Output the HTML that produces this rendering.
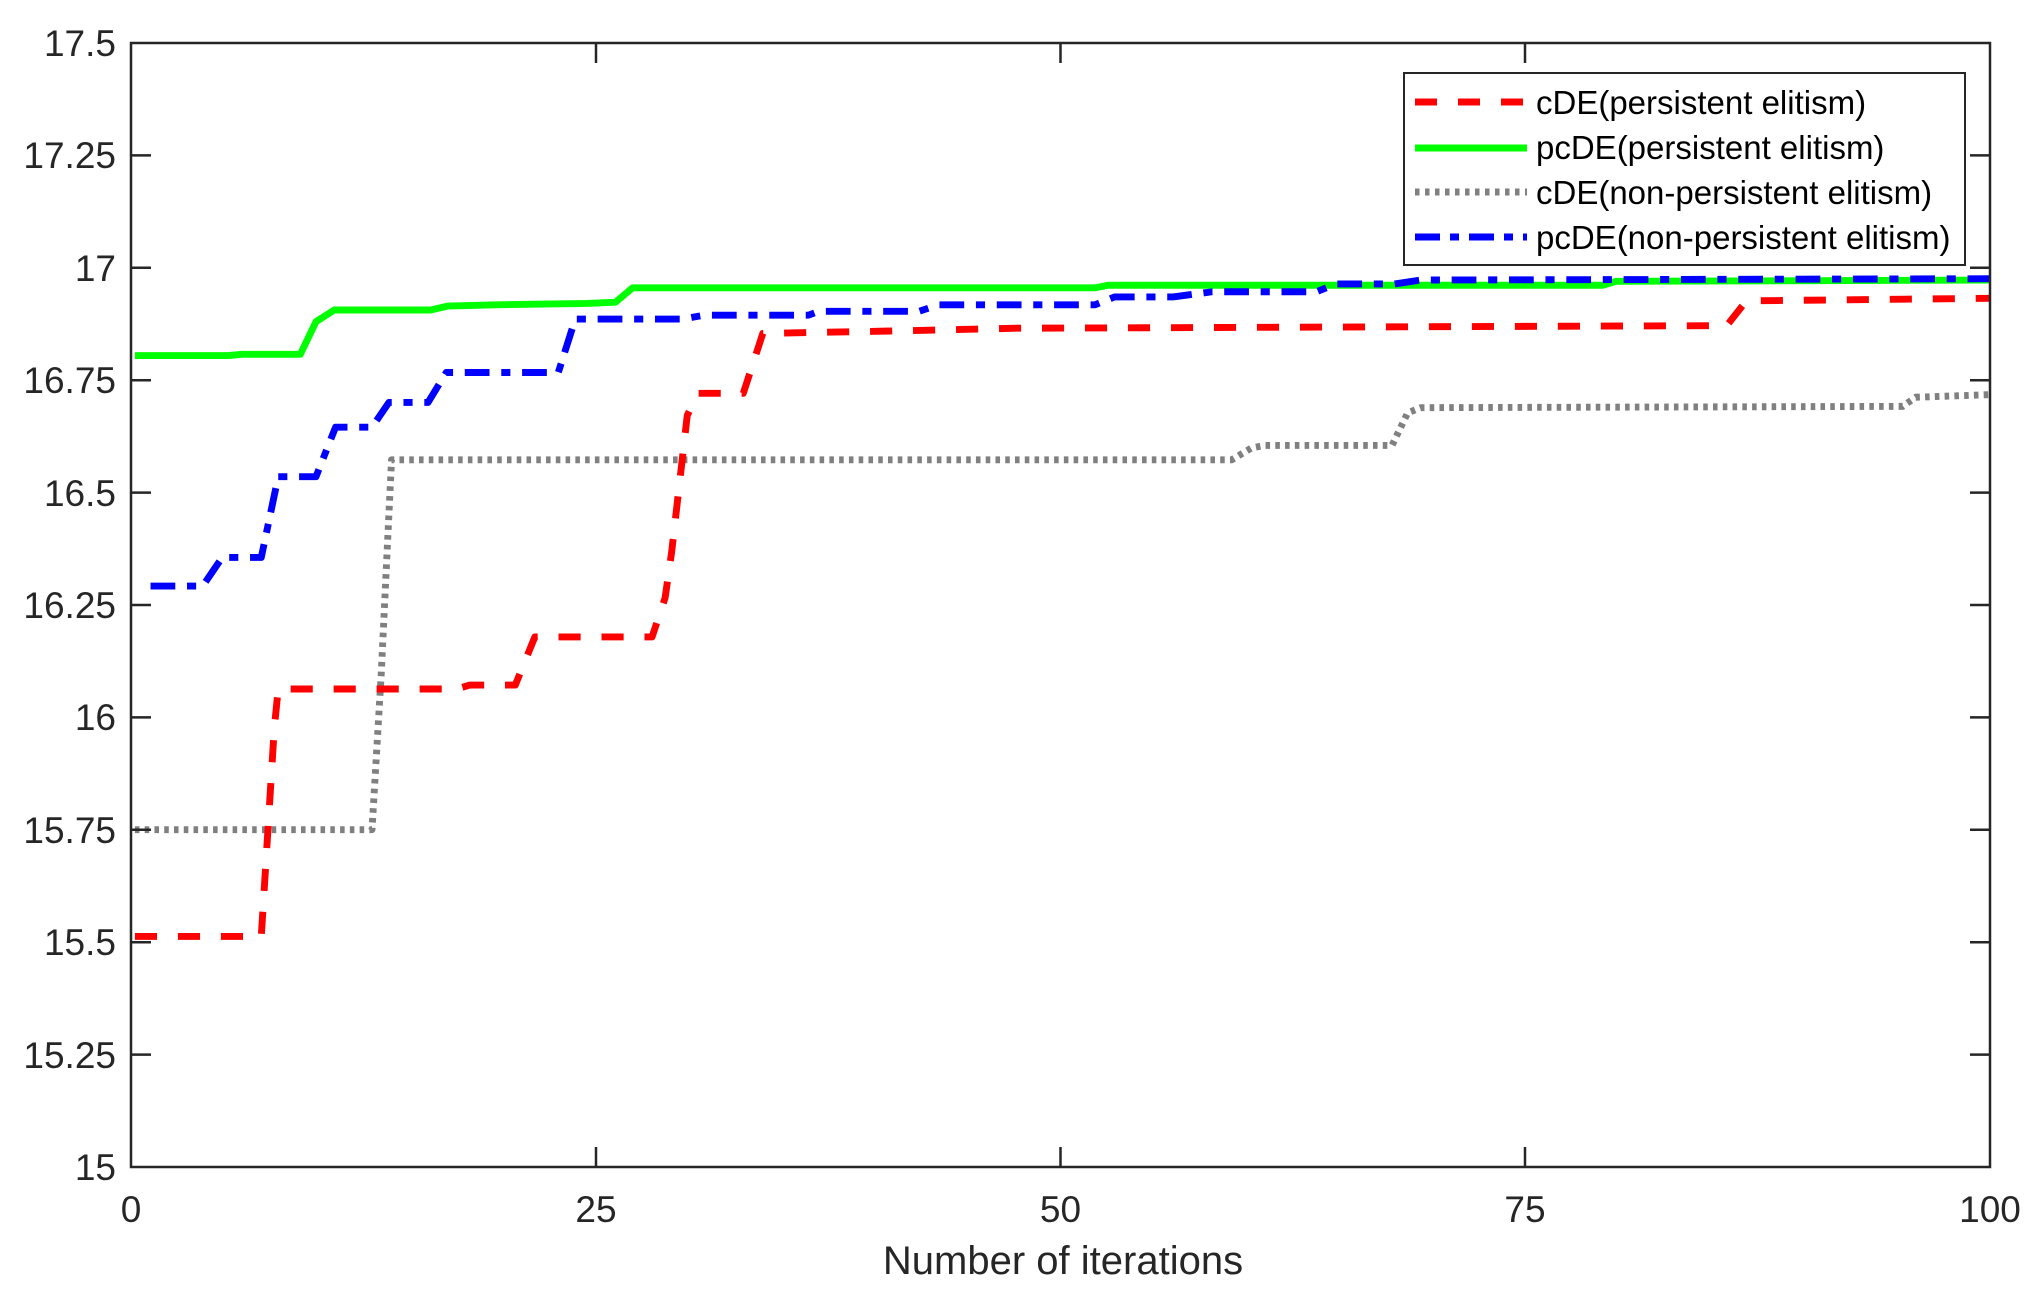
<!DOCTYPE html>
<html><head><meta charset="utf-8"><style>
html,body{margin:0;padding:0;background:#fff;}
svg{display:block;}
text{font-family:"Liberation Sans",sans-serif;fill:#262626;}
</style></head><body>
<svg width="2043" height="1301" viewBox="0 0 2043 1301">
<rect width="2043" height="1301" fill="#fff"/>
<g transform="translate(131,43) scale(1.3027,1.3024) translate(-100,-34)" fill="none" stroke-linejoin="round">
<path d="M103,274 L175,274 L185,273 L230,273 L242,248 L256,239 L330,239 L343,236 L380,235 L450,234 L472,233 L485,222 L840,222 L850,220 L1230,220 L1240,217 L1527,216" stroke="#00ff00" stroke-width="5.3"/>
<path d="M103,638 L285,638 L292,520 L300,354 L945,354 L960,345 L970,343 L1068,343 L1080,318 L1090,314 L1460,313 L1470,306 L1527,304" stroke="#808080" stroke-width="5.3" stroke-dasharray="3.5,4"/>
<path d="M103,720 L200,720 L210,560 L213,530 L350,530 L360,527 L395,527 L410,490 L500,490 L510,460 L515,425 L527,320 L535,303 L570,303 L585,257 L690,255 L780,253 L1325,251 L1340,232 L1527,230" stroke="#ff0000" stroke-width="5.3" stroke-dasharray="17,16"/>
<path d="M115,451 L155,451 L170,429 L200,429 L213,367 L242,367 L257,329 L285,329 L298,310 L328,310 L342,287 L428,287 L441,246 L523,246 L540,243 L620,243 L628,240 L705,240 L720,235 L840,235 L855,229 L900,229 L930,225 L1010,225 L1025,219 L1070,219 L1090,216 L1527,215" stroke="#0000ff" stroke-width="5.3" stroke-dasharray="19,9,7,9"/>
</g>
<rect x="131" y="43" width="1859" height="1124" fill="none" stroke="#262626" stroke-width="2.5"/>
<g stroke="#262626" stroke-width="2.5">
<line x1="596" y1="1167" x2="596" y2="1147"/><line x1="1060.5" y1="1167" x2="1060.5" y2="1147"/><line x1="1525" y1="1167" x2="1525" y2="1147"/>
<line x1="596" y1="43" x2="596" y2="63"/><line x1="1060.5" y1="43" x2="1060.5" y2="63"/><line x1="1525" y1="43" x2="1525" y2="63"/>
<line x1="131" y1="155.4" x2="151" y2="155.4"/><line x1="131" y1="267.8" x2="151" y2="267.8"/><line x1="131" y1="380.2" x2="151" y2="380.2"/><line x1="131" y1="492.6" x2="151" y2="492.6"/><line x1="131" y1="605" x2="151" y2="605"/><line x1="131" y1="717.4" x2="151" y2="717.4"/><line x1="131" y1="829.8" x2="151" y2="829.8"/><line x1="131" y1="942.2" x2="151" y2="942.2"/><line x1="131" y1="1054.6" x2="151" y2="1054.6"/>
<line x1="1990" y1="155.4" x2="1970" y2="155.4"/><line x1="1990" y1="267.8" x2="1970" y2="267.8"/><line x1="1990" y1="380.2" x2="1970" y2="380.2"/><line x1="1990" y1="492.6" x2="1970" y2="492.6"/><line x1="1990" y1="605" x2="1970" y2="605"/><line x1="1990" y1="717.4" x2="1970" y2="717.4"/><line x1="1990" y1="829.8" x2="1970" y2="829.8"/><line x1="1990" y1="942.2" x2="1970" y2="942.2"/><line x1="1990" y1="1054.6" x2="1970" y2="1054.6"/>
</g>
<g font-size="37" text-anchor="end">
<text x="116" y="56">17.5</text><text x="116" y="168">17.25</text><text x="116" y="281">17</text><text x="116" y="393">16.75</text><text x="116" y="506">16.5</text><text x="116" y="618">16.25</text><text x="116" y="730">16</text><text x="116" y="843">15.75</text><text x="116" y="955">15.5</text><text x="116" y="1068">15.25</text><text x="116" y="1180">15</text>
</g>
<g font-size="37" text-anchor="middle">
<text x="131" y="1222">0</text><text x="596" y="1222">25</text><text x="1060.5" y="1222">50</text><text x="1525" y="1222">75</text><text x="1990" y="1222">100</text>
<text x="1063" y="1274" font-size="40">Number of iterations</text>
</g>
<rect x="1404" y="73" width="561" height="192" fill="#fff" stroke="#262626" stroke-width="2"/>
<g stroke-width="7" fill="none">
<line x1="1415" y1="102" x2="1527" y2="102" stroke="#ff0000" stroke-dasharray="22,21"/>
<line x1="1415" y1="148" x2="1527" y2="148" stroke="#00ff00"/>
<line x1="1415" y1="192" x2="1527" y2="192" stroke="#808080" stroke-dasharray="4.5,5.5"/>
<line x1="1415" y1="237" x2="1527" y2="237" stroke="#0000ff" stroke-dasharray="25,10,9,10"/>
</g>
<g font-size="33">
<text x="1536" y="114" style="fill:#000">cDE(persistent elitism)</text>
<text x="1536" y="159" style="fill:#000">pcDE(persistent elitism)</text>
<text x="1536" y="204" style="fill:#000">cDE(non-persistent elitism)</text>
<text x="1536" y="249" style="fill:#000">pcDE(non-persistent elitism)</text>
</g>
</svg>
</body></html>
